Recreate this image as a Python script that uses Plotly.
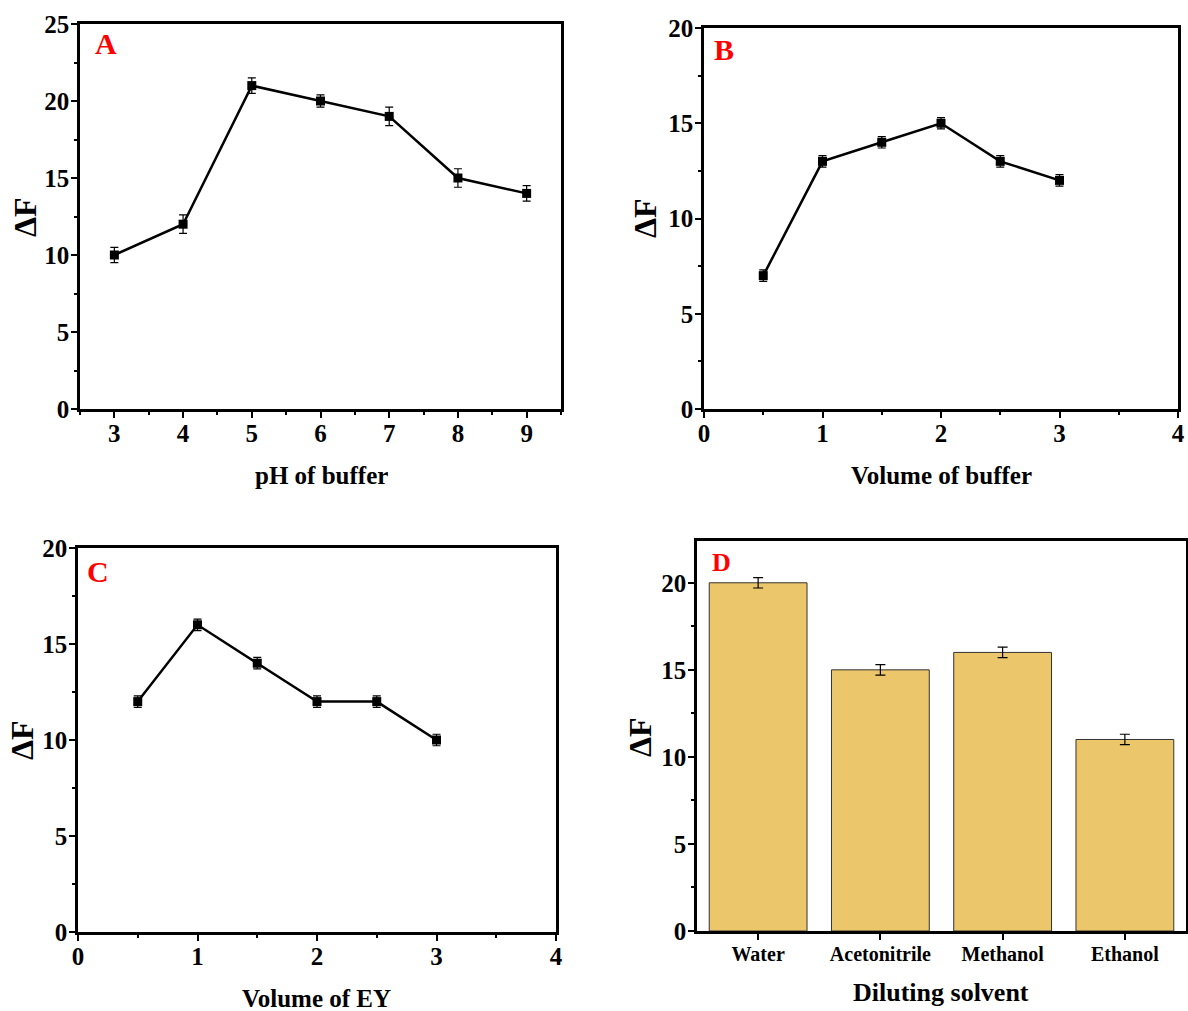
import plotly.graph_objects as go

# ---- data ----
ph = [3, 4, 5, 6, 7, 8, 9]
dF_ph = [10, 12, 21, 20, 19, 15, 14]
err_ph = [0.5, 0.6, 0.5, 0.4, 0.6, 0.6, 0.5]

vol_buf = [0.5, 1.0, 1.5, 2.0, 2.5, 3.0]
dF_buf = [7, 13, 14, 15, 13, 12]
err_buf = [0.3, 0.3, 0.3, 0.3, 0.3, 0.3]

vol_ey = [0.5, 1.0, 1.5, 2.0, 2.5, 3.0]
dF_ey = [12, 16, 14, 12, 12, 10]
err_ey = [0.3, 0.3, 0.3, 0.3, 0.3, 0.3]

solvents = ["Water", "Acetonitrile", "Methanol", "Ethanol"]
dF_solv = [20, 15, 16, 11]
err_solv = [0.3, 0.3, 0.3, 0.3]

W, H = 1188, 1011
FONT = "Liberation Serif"

def px(x):
    return x / W

def py(y):
    return 1 - y / H

fig = go.Figure()

def line_trace(x, y, e, xa, ya):
    fig.add_trace(go.Scatter(
        x=x, y=y, mode="lines+markers",
        line=dict(color="black", width=2.5),
        marker=dict(symbol="square", size=9, color="black"),
        error_y=dict(type="data", array=e, visible=True, color="black",
                     thickness=1.2, width=4),
        xaxis=xa, yaxis=ya, showlegend=False))

line_trace(ph, dF_ph, err_ph, "x", "y")
line_trace(vol_buf, dF_buf, err_buf, "x2", "y2")
line_trace(vol_ey, dF_ey, err_ey, "x3", "y3")

fig.add_trace(go.Bar(
    x=solvents, y=dF_solv, width=0.8,
    marker=dict(color="#ECC66A", line=dict(color="#333333", width=1)),
    error_y=dict(type="data", array=err_solv, visible=True, color="black",
                 thickness=1.2, width=5),
    xaxis="x4", yaxis="y4", showlegend=False))

tickfont = dict(family=FONT, size=25, color="black", weight="bold")

def axis(domain, rng, dtick, minor_dtick, anchor, tick0=0, cat=False,
         tfont=None, standoff=-4):
    d = dict(domain=domain, range=rng, anchor=anchor, automargin=False,
             showline=True, linewidth=2.5, linecolor="black", mirror=True,
             ticks="outside", ticklen=6, tickwidth=2, tickcolor="black",
             ticklabelstandoff=standoff,
             showgrid=False, zeroline=False,
             tickfont=tfont or tickfont)
    if cat:
        d.update(type="category",
                 minor=dict(ticks="outside", ticklen=3, tickwidth=2,
                            tickcolor="black", showgrid=False))
    else:
        d.update(tick0=tick0, dtick=dtick,
                 minor=dict(dtick=minor_dtick, tick0=tick0, ticks="outside",
                            ticklen=3, tickwidth=2, tickcolor="black",
                            showgrid=False))
    return d

fig.update_layout(
    width=W, height=H,
    margin=dict(l=0, r=0, t=0, b=0, pad=0),
    paper_bgcolor="white", plot_bgcolor="white",
    bargap=0.2,
    xaxis=axis([px(80), px(561)], [2.5, 9.5], 1, 0.5, "y", tick0=3, standoff=-6),
    yaxis=axis([py(409), py(24)], [0, 25], 5, 2.5, "x", standoff=-3),
    xaxis2=axis([px(704), px(1178)], [0, 4], 1, 0.5, "y2", standoff=-6),
    yaxis2=axis([py(409), py(28)], [0, 20], 5, 2.5, "x2", standoff=-3),
    xaxis3=axis([px(78), px(556)], [0, 4], 1, 0.5, "y3", standoff=-6),
    yaxis3=axis([py(932), py(548)], [0, 20], 5, 2.5, "x3", standoff=-3),
    xaxis4=axis([px(697), px(1186)], [-0.5, 3.5], None, None, "y4", cat=True,
                tfont=dict(family=FONT, size=20, color="black", weight="bold"),
                standoff=-3),
    yaxis4=axis([py(931), py(541)], [0, 22.4], 5, 2.5, "x4", standoff=-3),
)

title_font = dict(family=FONT, size=25, color="black", weight="bold")
df_font = dict(family=FONT, size=32, color="black", weight="bold")
letter_font = dict(family=FONT, size=30, color="red", weight="bold")

annos = []
# x-axis titles
for text, x, y, sz in [("pH of buffer", 321, 475, 25),
                       ("Volume of buffer", 941, 475, 25),
                       ("Volume of EY", 316, 998, 25),
                       ("Diluting solvent", 941, 992, 26)]:
    f = dict(title_font); f["size"] = sz
    annos.append(dict(text=text, x=px(x), y=py(y), xref="paper", yref="paper",
                      showarrow=False, font=f, xanchor="center", yanchor="middle"))
# y-axis titles
for x, y in [(25, 217), (645, 218), (22, 740), (640, 737)]:
    annos.append(dict(text="ΔF", x=px(x), y=py(y), xref="paper", yref="paper",
                      showarrow=False, font=df_font, textangle=-90,
                      xanchor="center", yanchor="middle"))
# panel letters
for text, x, y, sz in [("A", 106, 44, 30), ("B", 724, 50, 30),
                       ("C", 98, 571, 30), ("D", 721, 562, 26)]:
    f = dict(letter_font); f["size"] = sz
    annos.append(dict(text=text, x=px(x), y=py(y), xref="paper", yref="paper",
                      showarrow=False, font=f, xanchor="center", yanchor="middle"))

fig.update_layout(annotations=annos)

fig.write_html("out.html")
